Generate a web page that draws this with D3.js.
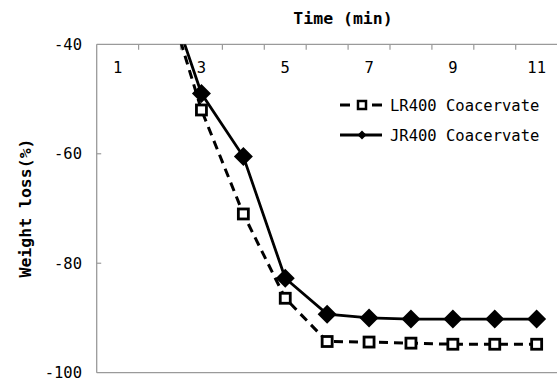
<!DOCTYPE html>
<html>
<head>
<meta charset="utf-8">
<script src="https://cdn.jsdelivr.net/npm/d3@7"></script>
<style>
  html, body { margin: 0; padding: 0; background: #fff; }
  svg { display: block; }
  text { font-family: "DejaVu Sans Mono", "Liberation Mono", monospace; fill: #000; }
</style>
</head>
<body>
<div id="chart"></div>
<script>
// ---- data ----
const times = [1, 2, 3, 4, 5, 6, 7, 8, 9, 10, 11];
const tickLabels = ["1", "", "3", "", "5", "", "7", "", "9", "", "11"];
const lr400 = [0, -26.8, -52.0, -71.0, -86.4, -94.3, -94.4, -94.6, -94.8, -94.8, -94.8];
const jr400 = [0, -26.5, -49.0, -60.5, -82.75, -89.3, -90.0, -90.2, -90.2, -90.2, -90.2];
const yTicks = [-40, -60, -80, -100];
const seriesNames = ["LR400 Coacervate", "JR400 Coacervate"];

(function () {
const W = 557, H = 385;
const pL = 96.7, pR = 557.6, pT = 44.3, pB = 372.7;

const svg = d3.select("#chart").append("svg").attr("width", W).attr("height", H);

const x = d3.scaleBand().domain(times).range([pL, pR]).padding(0);
const y = d3.scaleLinear().domain([-40, -100]).range([pT, pB]);
const cx = t => x(t) + x.bandwidth() / 2;

const gray = "#9a9a9a";

// frame lines (left, top, bottom)
svg.append("line").attr("x1", pL).attr("x2", W).attr("y1", pT).attr("y2", pT).attr("stroke", gray).attr("stroke-width", 1.3);
svg.append("line").attr("x1", pL).attr("x2", W).attr("y1", pB).attr("y2", pB).attr("stroke", gray).attr("stroke-width", 1.3);
svg.append("line").attr("x1", pL).attr("x2", pL).attr("y1", pT).attr("y2", pB).attr("stroke", gray).attr("stroke-width", 1.3);

// x ticks at band boundaries (inside), labels at centers
times.slice(1).forEach(t => {
  svg.append("line").attr("x1", x(t)).attr("x2", x(t)).attr("y1", pT).attr("y2", pT + 5.5)
    .attr("stroke", gray).attr("stroke-width", 1.2);
});
times.forEach((t, i) => {
  if (tickLabels[i]) {
    svg.append("text").attr("x", cx(t)).attr("y", 73).attr("text-anchor", "middle")
      .attr("font-size", 15.5).text(tickLabels[i]);
  }
});

// y ticks (inside), labels
yTicks.forEach(v => {
  if (v !== -40 && v !== -100) {
    svg.append("line").attr("x1", pL).attr("x2", pL + 4.5).attr("y1", y(v)).attr("y2", y(v))
      .attr("stroke", gray).attr("stroke-width", 1.2);
  }
  svg.append("text").attr("x", 82).attr("y", y(v)).attr("dy", "0.36em")
    .attr("text-anchor", "end").attr("font-size", 15.5).text(v);
});

// axis titles
svg.append("text").attr("x", 343).attr("y", 24).attr("text-anchor", "middle")
  .attr("font-size", 16.5).attr("font-weight", "bold").text("Time (min)");
svg.append("text").attr("transform", "translate(25,208) rotate(-90)")
  .attr("text-anchor", "middle").attr("dy", "0.35em")
  .attr("font-size", 16.5).attr("font-weight", "bold").text("Weight loss(%)");

// clip
svg.append("clipPath").attr("id", "clip").append("rect")
  .attr("x", pL).attr("y", pT).attr("width", W - pL).attr("height", pB - pT);
const plot = svg.append("g").attr("clip-path", "url(#clip)");

const line = d3.line().x((d, i) => cx(times[i])).y(d => y(d));

plot.append("path").datum(lr400).attr("d", line).attr("fill", "none")
  .attr("stroke", "#000").attr("stroke-width", 3).attr("stroke-dasharray", "9,6");
plot.append("path").datum(jr400).attr("d", line).attr("fill", "none")
  .attr("stroke", "#000").attr("stroke-width", 2.8);

const diamond = s => `M0,${-s} L${s},0 L0,${s} L${-s},0 Z`;

plot.selectAll(".jr").data(jr400).enter().append("path")
  .attr("transform", (d, i) => `translate(${cx(times[i])},${y(d)})`)
  .attr("d", diamond(9.5)).attr("fill", "#000");

plot.selectAll(".lr").data(lr400).enter().append("rect")
  .attr("x", (d, i) => cx(times[i]) - 5).attr("y", d => y(d) - 5)
  .attr("width", 10).attr("height", 10)
  .attr("fill", "#fff").attr("stroke", "#000").attr("stroke-width", 2.8);

// legend
const lg = svg.append("g");
const lx0 = 340, lx1 = 382, lxm = 362;
const ly = [105, 135];
[[lx0, lx0 + 10], [lx1 - 10, lx1]].forEach(([a, b]) => {
  lg.append("line").attr("x1", a).attr("x2", b).attr("y1", ly[0]).attr("y2", ly[0])
    .attr("stroke", "#000").attr("stroke-width", 3);
});
lg.append("rect").attr("x", lxm - 4).attr("y", ly[0] - 4).attr("width", 8).attr("height", 8)
  .attr("fill", "#fff").attr("stroke", "#000").attr("stroke-width", 2.5);
lg.append("line").attr("x1", lx0).attr("x2", lx1).attr("y1", ly[1]).attr("y2", ly[1])
  .attr("stroke", "#000").attr("stroke-width", 3);
lg.append("path").attr("transform", `translate(${lxm},${ly[1]})`).attr("d", diamond(4.5)).attr("fill", "#000");
seriesNames.forEach((n, i) => {
  lg.append("text").attr("x", 390).attr("y", ly[i]).attr("dy", "0.36em")
    .attr("font-size", 15.5).text(n);
});
})();
</script>
</body>
</html>
